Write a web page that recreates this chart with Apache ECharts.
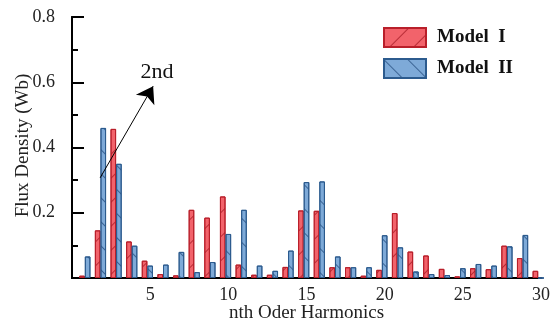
<!DOCTYPE html>
<html>
<head>
<meta charset="utf-8">
<script src="https://cdn.jsdelivr.net/npm/echarts@6/dist/echarts.min.js"></script>
<style>
    html, body { margin: 0; padding: 0; background: #fff; }
    #chart { width: 551px; height: 323px; }
</style>
</head>
<body>
<div id="chart"></div>
<script>
    // harmonic order n = 1..30
    var harmonics = [1, 2, 3, 4, 5, 6, 7, 8, 9, 10, 11, 12, 13, 14, 15,
                     16, 17, 18, 19, 20, 21, 22, 23, 24, 25, 26, 27, 28, 29, 30];
    var modelI = [0.007, 0.146, 0.457, 0.112, 0.053, 0.012, 0.008, 0.209, 0.185, 0.250,
                  0.041, 0.010, 0.010, 0.034, 0.207, 0.206, 0.033, 0.033, 0.007, 0.025,
                  0.199, 0.081, 0.069, 0.028, 0.005, 0.030, 0.027, 0.099, 0.061, 0.022];
    var modelII = [0.066, 0.460, 0.350, 0.099, 0.038, 0.041, 0.080, 0.018, 0.049, 0.135,
                   0.209, 0.038, 0.022, 0.084, 0.294, 0.296, 0.066, 0.033, 0.033, 0.131,
                   0.094, 0.020, 0.012, 0.009, 0.030, 0.043, 0.038, 0.097, 0.132, 0];
    var seriesNames = ['Model  I', 'Model  II'];
    // arrow pointing at the 2nd harmonic, in data units
    var arrowFrom = [1.8, 0.307];
    var arrowTo = [5.19, 0.588];
    var noteAt = [5.44, 0.63];

    var serif = '"Liberation Serif", "Times New Roman", serif';
    var barW = 5.6;
    var frameLine = { lineStyle: { color: '#000', width: 2 } };
    var tickLine = { show: true, lineStyle: { color: '#000', width: 2 } };

    // narrow strip grids at the left edge: their split lines act as inward ticks
    function tickGrid(w) {
        return { left: 72, width: w, top: 17, bottom: 45, outerBoundsMode: 'none', containLabel: false };
    }
    function tickY(grid, step) {
        return {
            type: 'value', gridIndex: grid, min: 0, max: 0.8, interval: step,
            axisLine: { show: false }, axisTick: { show: false }, axisLabel: { show: false },
            splitLine: tickLine
        };
    }
    function hiddenX(grid) {
        return { type: 'value', gridIndex: grid, min: 0, max: 1, show: false, splitLine: { show: false } };
    }

    var option = {
        animation: false,
        grid: [{
            left: 72, right: 10, top: 17, bottom: 45,
            outerBoundsMode: 'none',
            containLabel: false
        }, tickGrid(12), tickGrid(6)],
        legend: {
            data: seriesNames,
            orient: 'vertical',
            left: 378,
            top: 22,
            itemWidth: 42,
            itemHeight: 19,
            itemGap: 10,
            icon: 'rect',
            textStyle: {
                fontFamily: serif,
                fontWeight: 'bold',
                fontSize: 19,
                color: '#111',
                padding: [0, 0, 0, 6]
            }
        },
        xAxis: [{
            type: 'value',
            min: 0,
            max: 30,
            interval: 5,
            name: 'nth Oder Harmonics',
            nameLocation: 'middle',
            nameGap: 26,
            nameMoveOverlap: false,
            nameTextStyle: { fontFamily: serif, fontSize: 19, color: '#222' },
            axisLine: frameLine,
            axisTick: { show: false },
            axisLabel: {
                showMinLabel: false,
                fontFamily: serif, fontSize: 18, color: '#222', margin: 8
            },
            splitLine: { show: false }
        }, {
            // top edge of the frame
            type: 'value',
            position: 'top',
            min: 0,
            max: 30,
            interval: 5,
            axisLine: frameLine,
            axisTick: { show: false },
            axisLabel: { show: false },
            splitLine: { show: false }
        }, hiddenX(1), hiddenX(2)],
        yAxis: [{
            type: 'value',
            min: 0,
            max: 0.8,
            interval: 0.2,
            name: 'Flux Density (Wb)',
            nameLocation: 'middle',
            nameGap: 39,
            nameMoveOverlap: false,
            nameTextStyle: { fontFamily: serif, fontSize: 19, color: '#222', padding: [0, 0, 0, 4] },
            axisLine: frameLine,
            axisTick: { show: false },
            axisLabel: {
                showMinLabel: false,
                fontFamily: serif, fontSize: 18, color: '#222', margin: 17,
                formatter: function (v) { return v.toFixed(1); }
            },
            splitLine: { show: false }
        }, {
            // right edge of the frame
            type: 'value',
            position: 'right',
            min: 0,
            max: 0.8,
            interval: 0.2,
            axisLine: frameLine,
            axisTick: { show: false },
            axisLabel: { show: false },
            splitLine: { show: false }
        }, tickY(1, 0.2), tickY(2, 0.1)],
        series: [{
            name: seriesNames[0],
            type: 'bar',
            barWidth: barW,
            barGap: '0%',
            data: harmonics.map(function (n, i) { return [n, modelI[i]]; }),
            itemStyle: {
                color: '#f2636b',
                borderColor: '#b91f2a',
                borderWidth: 1,
                decal: {
                    symbol: 'rect',
                    symbolSize: 1,
                    dashArrayX: [1, 0],
                    dashArrayY: [1, 16],
                    rotation: -Math.PI / 4,
                    color: 'rgba(160,20,30,0.7)'
                }
            }
        }, {
            name: seriesNames[1],
            type: 'bar',
            barWidth: barW,
            barGap: '0%',
            data: harmonics.map(function (n, i) { return [n, modelII[i]]; }),
            itemStyle: {
                color: '#7eaad8',
                borderColor: '#2c5b8e',
                borderWidth: 1,
                decal: {
                    symbol: 'rect',
                    symbolSize: 1,
                    dashArrayX: [1, 0],
                    dashArrayY: [1, 16],
                    rotation: Math.PI / 4,
                    color: 'rgba(30,70,120,0.7)'
                }
            },
            // the blue bars sit on the tick, so markers are not shifted here
            markLine: {
                silent: true,
                symbol: ['none', 'arrow'],
                symbolSize: 16,
                label: { show: false },
                lineStyle: { color: '#000', width: 1, type: 'solid' },
                data: [[{ coord: arrowFrom }, { coord: arrowTo }]]
            },
            markPoint: {
                silent: true,
                symbol: 'rect',
                symbolSize: 1,
                itemStyle: { color: 'rgba(0,0,0,0)' },
                label: {
                    show: true,
                    position: 'inside',
                    formatter: '2nd',
                    fontFamily: serif,
                    fontSize: 22,
                    color: '#111'
                },
                data: [{ coord: noteAt }]
            }
        }, {
            // empty spacer so the red/blue pair sits left of the tick
            name: 'spacer',
            type: 'bar',
            barWidth: barW,
            barGap: '0%',
            data: []
        }]
    };

    var chart = echarts.init(document.getElementById('chart'));
    chart.setOption(option);
</script>
</body>
</html>
